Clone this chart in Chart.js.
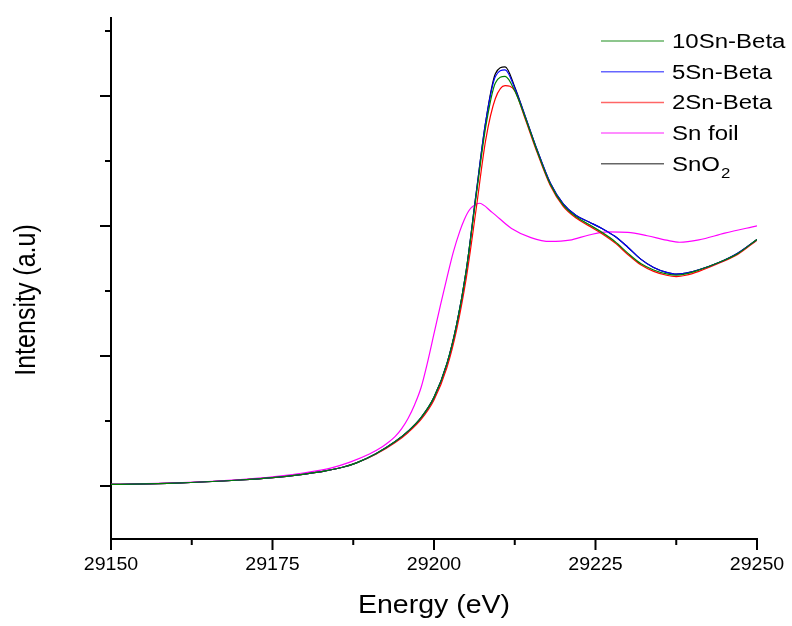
<!DOCTYPE html>
<html>
<head>
<meta charset="utf-8">
<script src="https://cdn.jsdelivr.net/npm/chart.js@4/dist/chart.umd.min.js"></script>
<style>
  html, body { margin: 0; padding: 0; background: #fff; }
  #wrap { width: 792px; height: 626px; }
</style>
</head>
<body>
<div id="wrap"><canvas id="xanes"></canvas></div>
<script>
// Energy grid shared by the Sn-Beta samples and SnO2 (eV)
const energy = [29150, 29160, 29170, 29175, 29180, 29183, 29186, 29188, 29191, 29194, 29196, 29198, 29200,
  29202, 29203.5, 29205, 29206.5, 29208, 29209.5, 29211, 29212.5, 29214, 29216, 29218, 29220,
  29222, 29224, 29226, 29228, 29230, 29232, 29234, 29236, 29237.5, 29239, 29241, 29244, 29247, 29250];

const sno2 = [0.005, 0.010, 0.022, 0.031, 0.045, 0.056, 0.072, 0.088, 0.123, 0.170, 0.210, 0.262, 0.34,
  0.47, 0.62, 0.83, 1.12, 1.40, 1.585, 1.612, 1.535, 1.43, 1.29, 1.165, 1.085,
  1.04, 1.015, 0.99, 0.96, 0.918, 0.872, 0.84, 0.821, 0.814, 0.818, 0.831, 0.858, 0.895, 0.948];

const sn5 = [0.005, 0.010, 0.022, 0.031, 0.045, 0.056, 0.072, 0.088, 0.123, 0.170, 0.210, 0.262, 0.34,
  0.47, 0.62, 0.83, 1.12, 1.40, 1.575, 1.600, 1.530, 1.43, 1.29, 1.165, 1.085,
  1.04, 1.015, 0.99, 0.96, 0.918, 0.872, 0.84, 0.821, 0.814, 0.818, 0.831, 0.858, 0.895, 0.948];

const sn10 = [0.005, 0.010, 0.022, 0.031, 0.045, 0.056, 0.072, 0.088, 0.123, 0.170, 0.210, 0.262, 0.34,
  0.47, 0.62, 0.83, 1.11, 1.38, 1.550, 1.575, 1.520, 1.425, 1.285, 1.16, 1.08,
  1.035, 1.005, 0.975, 0.94, 0.895, 0.855, 0.83, 0.815, 0.81, 0.815, 0.83, 0.858, 0.893, 0.948];

const sn2 = [0.005, 0.010, 0.022, 0.031, 0.045, 0.056, 0.072, 0.088, 0.121, 0.166, 0.205, 0.255, 0.33,
  0.455, 0.60, 0.80, 1.06, 1.33, 1.490, 1.540, 1.520, 1.42, 1.28, 1.155, 1.075,
  1.03, 1.0, 0.97, 0.935, 0.89, 0.85, 0.825, 0.81, 0.805, 0.81, 0.825, 0.855, 0.89, 0.945];

// Sn foil has its own grid
const foilEnergy = [29150, 29160, 29170, 29175, 29180, 29184, 29187, 29190, 29192, 29193, 29194, 29195,
  29196, 29197, 29198, 29199, 29200, 29201, 29202, 29203, 29204, 29204.7, 29205.5, 29206.3,
  29207, 29209, 29212, 29215, 29218, 29221, 29224, 29227, 29230, 29233, 29236, 29238,
  29241, 29245, 29250];
const snFoil = [0.005, 0.011, 0.024, 0.034, 0.05, 0.068, 0.091, 0.122, 0.150, 0.168, 0.190, 0.220,
  0.260, 0.312, 0.378, 0.475, 0.585, 0.695, 0.80, 0.90, 0.98, 1.025, 1.062, 1.080,
  1.087, 1.052, 0.99, 0.955, 0.94, 0.945, 0.965, 0.977, 0.975, 0.962, 0.945, 0.937,
  0.946, 0.972, 1.0];

const xMajor = [29150, 29175, 29200, 29225, 29250];
const xMinor = [29162.5, 29187.5, 29212.5, 29237.5];
const xLabels = ['29150', '29175', '29200', '29225', '29250'];
const yMajor = [0, 0.5, 1.0, 1.5];
const yMinor = [0.25, 0.75, 1.25, 1.75];

const FONT = '"Liberation Sans", Arial, sans-serif';

function pts(xs, ys) {
  return xs.map((x, i) => ({ x: x, y: ys[i] }));
}

function series(label, xs, ys, color) {
  return {
    label: label,
    data: pts(xs, ys),
    borderColor: color,
    backgroundColor: color,
    borderWidth: 1.2,
    pointRadius: 0,
    cubicInterpolationMode: 'monotone',
    fill: false
  };
}

// text stretched sideways like the original export
function stretchText(ctx, text, x, y, sx, font, align) {
  ctx.save();
  ctx.translate(x, y);
  ctx.scale(sx, 1);
  ctx.font = font;
  ctx.textAlign = align || 'left';
  ctx.textBaseline = 'alphabetic';
  ctx.fillStyle = '#000';
  ctx.fillText(text, 0, 0);
  ctx.restore();
}

const axesDecor = {
  id: 'axesDecor',
  afterDraw(chart) {
    const ctx = chart.ctx;
    const xs = chart.scales.x, ys = chart.scales.y;
    const area = chart.chartArea;
    ctx.save();
    ctx.strokeStyle = '#000';
    ctx.lineWidth = 2;
    ctx.beginPath();
    xMajor.forEach(v => { const p = xs.getPixelForValue(v); ctx.moveTo(p, area.bottom); ctx.lineTo(p, area.bottom + 11); });
    xMinor.forEach(v => { const p = xs.getPixelForValue(v); ctx.moveTo(p, area.bottom); ctx.lineTo(p, area.bottom + 6); });
    yMajor.forEach(v => { const p = Math.round(ys.getPixelForValue(v)); ctx.moveTo(area.left, p); ctx.lineTo(area.left - 11, p); });
    yMinor.forEach(v => { const p = Math.round(ys.getPixelForValue(v)); ctx.moveTo(area.left, p); ctx.lineTo(area.left - 6, p); });
    ctx.stroke();
    ctx.restore();

    xMajor.forEach((v, i) => {
      stretchText(ctx, xLabels[i], xs.getPixelForValue(v), 570, 1.12, '17.5px ' + FONT, 'center');
    });

    // axis titles
    stretchText(ctx, 'Energy (eV)', (area.left + area.right) / 2, 613, 1.14, '25px ' + FONT, 'center');
    ctx.save();
    ctx.translate(35, 300);
    ctx.scale(1.15, 1);
    ctx.rotate(-Math.PI / 2);
    ctx.font = '25px ' + FONT;
    ctx.textAlign = 'center';
    ctx.textBaseline = 'alphabetic';
    ctx.fillStyle = '#000';
    ctx.fillText('Intensity (a.u)', 0, 0);
    ctx.restore();

    // legend
    const items = chart.data.datasets;
    items.forEach((ds, i) => {
      const y = 41 + i * 30.7;
      ctx.save();
      ctx.strokeStyle = ds.borderColor;
      ctx.globalAlpha = 0.6;
      ctx.lineWidth = 1.5;
      ctx.beginPath();
      ctx.moveTo(601, y);
      ctx.lineTo(664, y);
      ctx.stroke();
      ctx.restore();
      if (ds.label === 'SnO2') {
        stretchText(ctx, 'SnO', 672, y + 7, 1.2, '20px ' + FONT, 'left');
        ctx.save();
        ctx.font = '20px ' + FONT;
        const w = ctx.measureText('SnO').width * 1.2;
        ctx.restore();
        stretchText(ctx, '2', 672 + w + 1, y + 14, 1.2, '14px ' + FONT, 'left');
      } else {
        stretchText(ctx, ds.label, 672, y + 7, 1.2, '20px ' + FONT, 'left');
      }
    });
  }
};

new Chart(document.getElementById('xanes'), {
  type: 'line',
  data: {
    datasets: [
      series('10Sn-Beta', energy, sn10, '#008000'),
      series('5Sn-Beta', energy, sn5, '#0000ff'),
      series('2Sn-Beta', energy, sn2, '#ff0000'),
      series('Sn foil', foilEnergy, snFoil, '#ff00ff'),
      series('SnO2', energy, sno2, '#000000')
    ]
  },
  options: {
    responsive: true,
    maintainAspectRatio: false,
    animation: false,
    layout: { padding: { top: 18, right: 35, left: 0, bottom: 0 } },
    plugins: { legend: { display: false }, tooltip: { enabled: false } },
    scales: {
      x: {
        type: 'linear',
        min: 29150,
        max: 29250,
        grid: { display: false },
        border: { display: true, color: '#000', width: 2 },
        ticks: { display: false },
        afterFit: s => { s.height = 87; }
      },
      y: {
        min: -0.205,
        max: 1.8,
        grid: { display: false },
        border: { display: true, color: '#000', width: 2 },
        ticks: { display: false },
        afterFit: s => { s.width = 111; }
      }
    }
  },
  plugins: [axesDecor]
});
</script>
</body>
</html>
